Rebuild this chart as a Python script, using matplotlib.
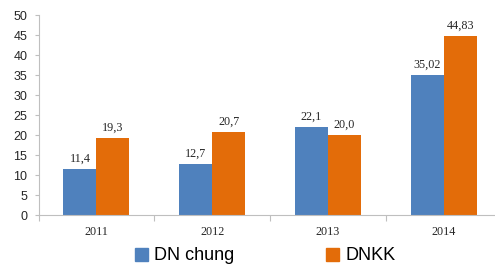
import numpy as np
import matplotlib.pyplot as plt
from matplotlib.patches import Patch

years = ["2011", "2012", "2013", "2014"]
dn_chung = [11.4, 12.7, 22.1, 35.02]
dnkk = [19.3, 20.7, 20.0, 44.83]
dn_chung_labels = ["11,4", "12,7", "22,1", "35,02"]
dnkk_labels = ["19,3", "20,7", "20,0", "44,83"]

blue = "#4F81BD"
orange = "#E36C09"
grid_col = "#BFBFBF"

fig = plt.figure(figsize=(4.95, 2.68), dpi=100)
ax = fig.add_axes([38.5 / 495, 1 - 215 / 268, 463 / 495, 200 / 268])

x = np.arange(len(years))
w = 0.285
b1 = ax.bar(x - w / 2, dn_chung, w, color=blue)
b2 = ax.bar(x + w / 2, dnkk, w, color=orange)

for bars, labels in [(b1, dn_chung_labels), (b2, dnkk_labels)]:
    for rect, lab in zip(bars, labels):
        ax.annotate(lab, (rect.get_x() + rect.get_width() / 2, rect.get_height()),
                    xytext=(0, 3), textcoords="offset points", ha="center", va="bottom",
                    fontsize=8.7, family="Liberation Serif", color="#262626")

ax.set_xlim(-0.5, 3.5)
ax.set_ylim(0, 50)
ax.set_yticks(range(0, 51, 5))
ax.tick_params(axis="y", labelsize=9, length=3, color=grid_col, pad=5, labelcolor="#262626")
for t in ax.get_yticklabels():
    t.set_family("Liberation Sans")

ax.set_xticks(np.arange(-0.5, 4, 1))
ax.set_xticklabels([])
ax.set_xticks(x, minor=True)
ax.set_xticklabels(years, minor=True, fontsize=8.7, family="Liberation Serif", color="#262626")
ax.tick_params(axis="x", which="major", length=4, color=grid_col)
ax.tick_params(axis="x", which="minor", length=0, pad=8)

for s in ["top", "right"]:
    ax.spines[s].set_visible(False)
for s in ["left", "bottom"]:
    ax.spines[s].set_color(grid_col)
    ax.spines[s].set_linewidth(0.8)

handles = [Patch(color=blue, label="DN chung"), Patch(color=orange, label="DNKK")]
fig.legend(handles=handles, loc="center", bbox_to_anchor=(265 / 495, 1 - 256 / 268),
           ncol=2, frameon=False, prop={"family": "Liberation Sans", "size": 13},
           handlelength=0.72, handleheight=0.72, handletextpad=0.33, columnspacing=5.1,
           borderpad=0, borderaxespad=0)

fig.savefig("out.png", dpi=100)
